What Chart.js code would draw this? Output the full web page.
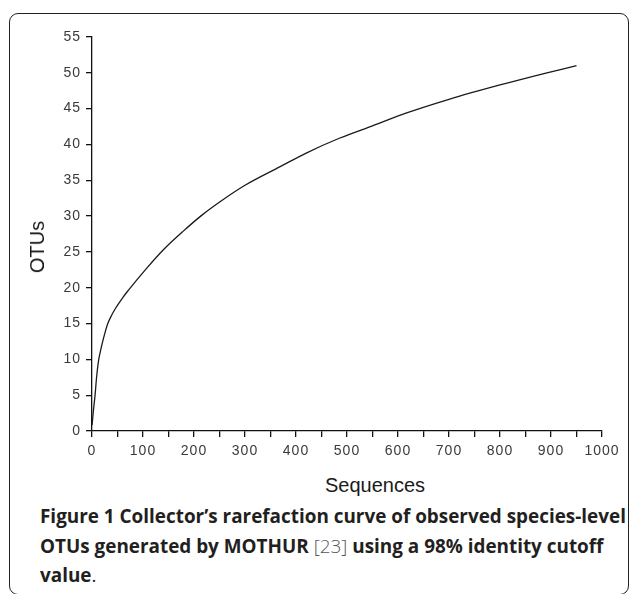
<!doctype html>
<html lang="en">

<head>
  <meta charset="utf-8">
  <style>
    * {
      margin: 0;
      padding: 0;
    }

    body {
      width: 630px;
      height: 594px;
      background: #fff;
      position: relative;
      overflow: hidden;
    }

    .frame {
      position: absolute;
      left: 9px;
      top: 13px;
      width: 618px;
      height: 580px;
      border: 1.5px solid #222;
      border-radius: 9px;
    }

    .chartBox {
      position: absolute;
      left: 0;
      top: 0;
      width: 630px;
      height: 470px;
    }

    .axisTitle {
      position: absolute;
      font-family: "Liberation Sans", Arial, sans-serif;
      font-size: 20px;
      color: #1a1a1a;
      white-space: nowrap;
      line-height: 1;
    }

    .xTitle {
      left: 375px;
      top: 475px;
      transform: translateX(-50%);
    }

    .yTitle {
      left: 37px;
      top: 247px;
      transform: translate(-50%, -50%) rotate(-90deg);
    }

    .caption {
      position: absolute;
      left: 40px;
      top: 502px;
      font-family: "Open Sans", sans-serif;
      font-size: 18.9px;
      line-height: 29.5px;
      color: #231f20;
      white-space: nowrap;
    }

    .caption b {
      font-weight: 700;
    }

    .caption .ref {
      font-weight: 300;
      color: #555;
    }
  </style>
</head>

<body>
  <div class="frame"></div>
  <div class="chartBox">
    <canvas id="myChart"></canvas>
  </div>
  <div class="axisTitle xTitle">Sequences</div>
  <div class="axisTitle yTitle">OTUs</div>
  <div class="caption">
    <b>Figure 1 Collector’s rarefaction curve of observed species-level</b><br>
    <b>OTUs generated by MOTHUR</b> <span class="ref">[23]</span> <b>using a 98% identity cutoff</b><br>
    <b>value</b>.
  </div>

  <script src="https://cdn.jsdelivr.net/npm/chart.js"></script>
  <script>
    // values
    const sequences = [0, 1, 3, 6, 9, 13, 17, 21, 25, 31, 38, 45, 60, 72, 107, 140, 179, 215, 251, 300, 369, 420, 486, 550, 617, 700, 800, 892, 950]
    const otus = [0.8, 1.5, 3, 5, 7.5, 9.9, 11.3, 12.5, 13.6, 15, 16.1, 17, 18.6, 19.7, 22.7, 25.3, 27.9, 30.1, 32, 34.3, 36.9, 38.8, 40.9, 42.6, 44.4, 46.3, 48.3, 50, 51]
    const xTicks = [0, 100, 200, 300, 400, 500, 600, 700, 800, 900, 1000]
    const yTicks = [0, 5, 10, 15, 20, 25, 30, 35, 40, 45, 50, 55]

    const points = sequences.map((s, i) => ({ x: s, y: otus[i] }))

    const tickFont = { family: '"Liberation Sans", Arial, sans-serif', size: 14 }

    const spacing = {
      id: 'spacing',
      beforeDraw(chart) {
        chart.ctx.letterSpacing = '1px'
      }
    }

    const data = {
      datasets: [{
        data: points,
        borderColor: '#1a1a1a',
        borderWidth: 1.3,
        pointRadius: 0,
        showLine: true,
        fill: false,
        cubicInterpolationMode: 'monotone'
      }]
    }

    const config = {
      type: 'scatter',
      data,
      options: {
        responsive: true,
        maintainAspectRatio: false,
        animation: false,
        layout: {
          padding: { top: 37, left: 20, right: 28, bottom: 0 }
        },
        plugins: {
          legend: { display: false },
          tooltip: { enabled: false }
        },
        scales: {
          x: {
            type: 'linear',
            min: 0,
            max: 1000,
            afterBuildTicks(scale) {
              const t = []
              for (let v = 0; v <= 1000; v += 50) t.push({ value: v })
              scale.ticks = t
            },
            afterFit(scale) {
              scale.height = 39
            },
            border: { display: true, color: '#111', width: 1.3 },
            grid: { display: true, drawOnChartArea: false, drawTicks: true, tickLength: 6, color: '#111', lineWidth: 1.3 },
            ticks: {
              color: '#3a3a3a',
              font: tickFont,
              padding: 6,
              maxRotation: 0,
              autoSkip: false,
              callback: (v) => xTicks.includes(v) ? String(v) : ''
            }
          },
          y: {
            type: 'linear',
            min: 0,
            max: 55,
            afterBuildTicks(scale) {
              scale.ticks = yTicks.map(v => ({ value: v }))
            },
            afterFit(scale) {
              scale.width = 72
            },
            border: { display: true, color: '#111', width: 1.3 },
            grid: { display: true, drawOnChartArea: false, drawTicks: true, tickLength: 6, color: '#111', lineWidth: 1.3 },
            ticks: {
              color: '#3a3a3a',
              font: tickFont,
              padding: 5
            }
          }
        }
      },
      plugins: [spacing]
    }

    const myChart = new Chart(document.getElementById('myChart'), config)
  </script>
</body>

</html>
